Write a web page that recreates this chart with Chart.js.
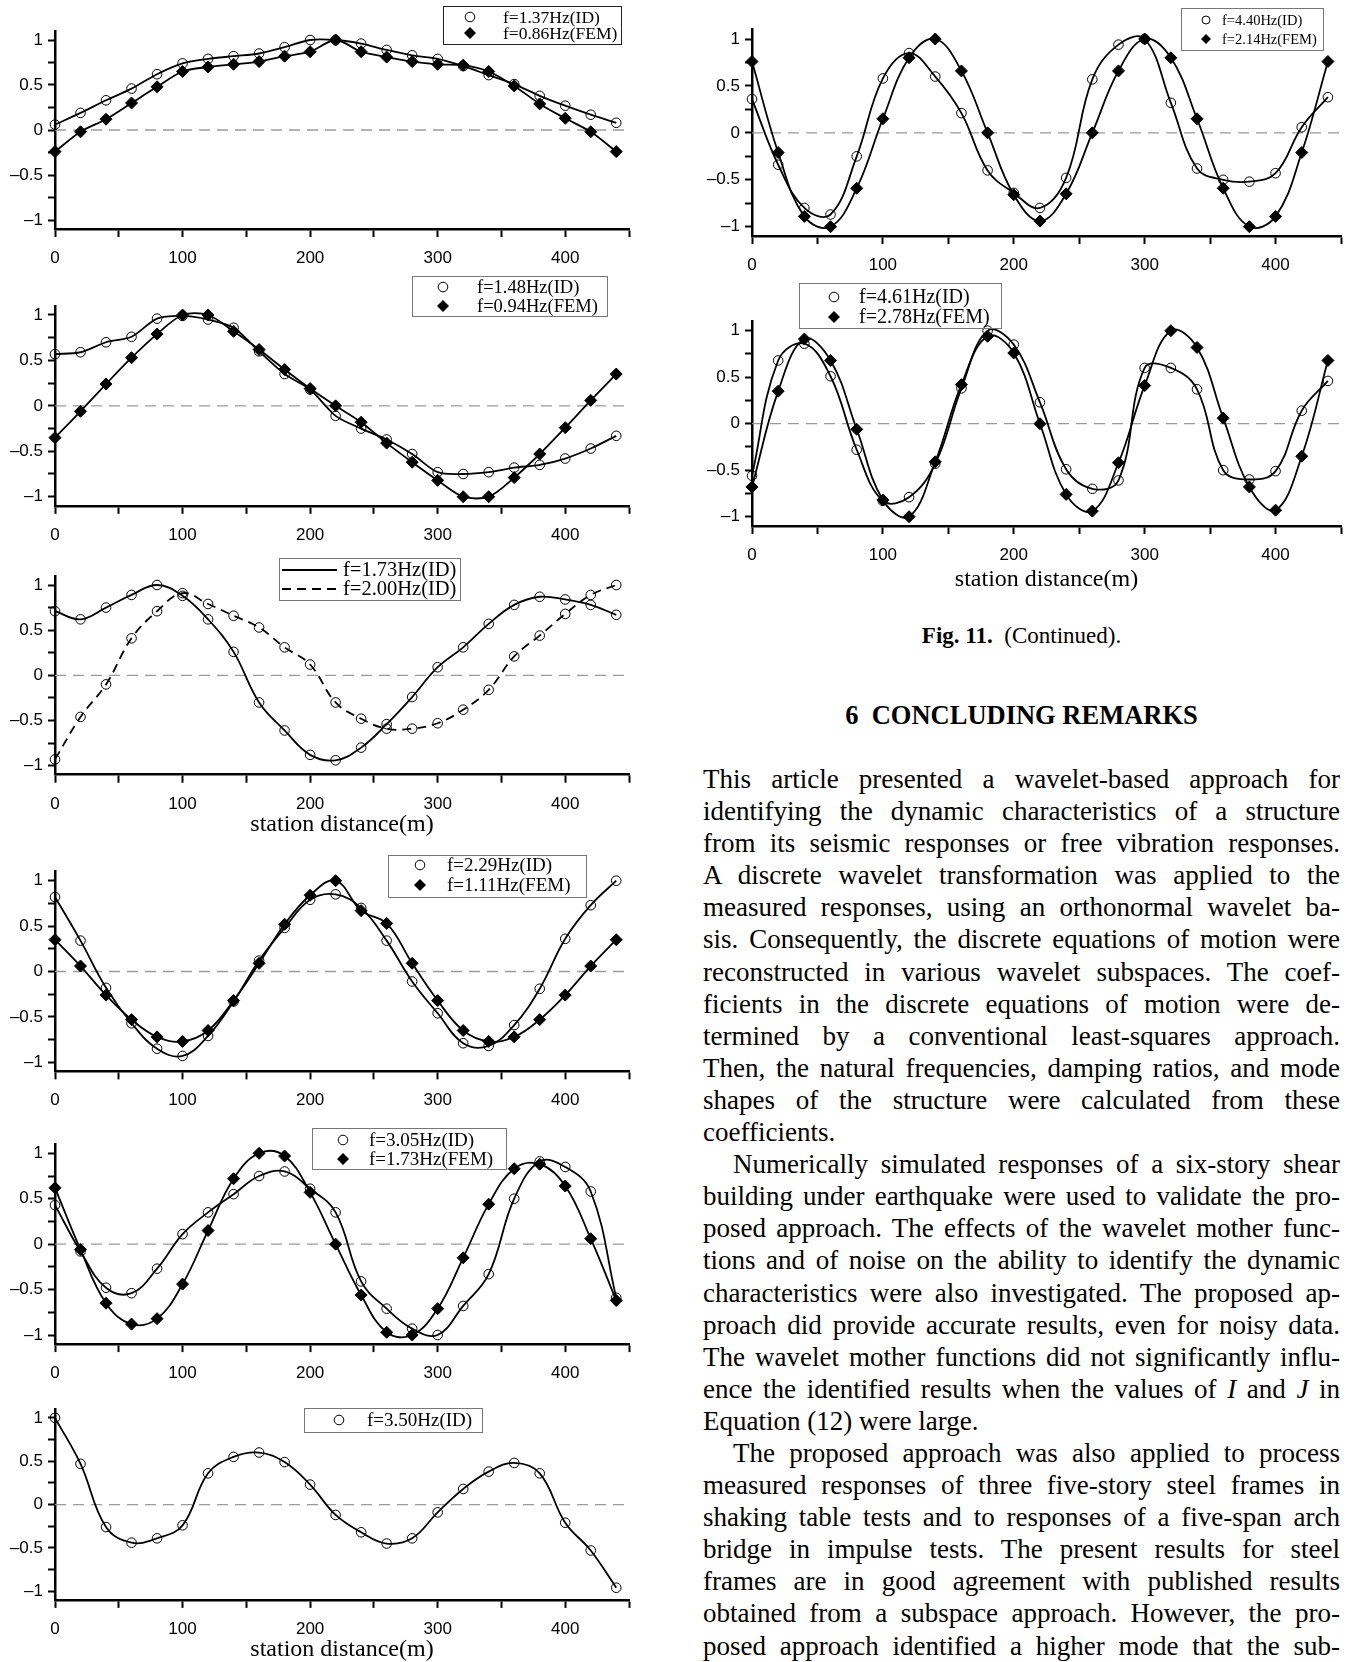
<!DOCTYPE html>
<html>
<head>
<meta charset="utf-8">
<title>Mode shapes</title>
<script src="https://cdn.jsdelivr.net/npm/chart.js@4.4.1/dist/chart.umd.min.js"></script>
<style>
  html, body { margin: 0; padding: 0; background: #fff; }
  body { width: 1352px; height: 1662px; position: relative; overflow: hidden; }
  canvas { position: absolute; }
  .txt { position: absolute; font-family: "Liberation Serif", "Times New Roman", serif; color: #000; }
  #caption { left: 703px; width: 637px; top: 622px; text-align: center; font-size: 23px; line-height: 28px; }
  #heading { left: 703px; width: 637px; top: 700px; text-align: center; font-size: 26.5px; font-weight: bold; line-height: 30px; }
  #body { left: 703px; width: 637px; top: 763px; font-size: 27px; line-height: 32.1px; }
  #body div { text-align: justify; text-align-last: justify; }
  #body div.end { text-align-last: left; }
  #body div.ind { text-indent: 30px; }
</style>
</head>
<body>

<div class="txt" id="caption"><b>Fig. 11.</b>&nbsp; (Continued).</div>
<div class="txt" id="heading">6&nbsp; CONCLUDING REMARKS</div>
<div class="txt" id="body">
  <div>This article presented a wavelet-based approach for</div>
  <div>identifying the dynamic characteristics of a structure</div>
  <div>from its seismic responses or free vibration responses.</div>
  <div>A discrete wavelet transformation was applied to the</div>
  <div>measured responses, using an orthonormal wavelet ba-</div>
  <div>sis. Consequently, the discrete equations of motion were</div>
  <div>reconstructed in various wavelet subspaces. The coef-</div>
  <div>ficients in the discrete equations of motion were de-</div>
  <div>termined by a conventional least-squares approach.</div>
  <div>Then, the natural frequencies, damping ratios, and mode</div>
  <div>shapes of the structure were calculated from these</div>
  <div class="end">coefficients.</div>
  <div class="ind">Numerically simulated responses of a six-story shear</div>
  <div>building under earthquake were used to validate the pro-</div>
  <div>posed approach. The effects of the wavelet mother func-</div>
  <div>tions and of noise on the ability to identify the dynamic</div>
  <div>characteristics were also investigated. The proposed ap-</div>
  <div>proach did provide accurate results, even for noisy data.</div>
  <div>The wavelet mother functions did not significantly influ-</div>
  <div>ence the identified results when the values of <i>I</i> and <i>J</i> in</div>
  <div class="end">Equation (12) were large.</div>
  <div class="ind">The proposed approach was also applied to process</div>
  <div>measured responses of three five-story steel frames in</div>
  <div>shaking table tests and to responses of a five-span arch</div>
  <div>bridge in impulse tests. The present results for steel</div>
  <div>frames are in good agreement with published results</div>
  <div>obtained from a subspace approach. However, the pro-</div>
  <div>posed approach identified a higher mode that the sub-</div>
</div>

<script>
// station positions (m)
const station = [0, 20, 40, 60, 80, 100, 120, 140, 160, 180, 200, 220,
                 240, 260, 280, 300, 320, 340, 360, 380, 400, 420, 440];

// normalised mode shapes
const id137 = [0.06, 0.19, 0.33, 0.46, 0.62, 0.74, 0.79, 0.82, 0.85, 0.92, 1.0, 1.0,
               0.96, 0.89, 0.83, 0.79, 0.71, 0.61, 0.51, 0.38, 0.27, 0.17, 0.08];
const fem086 = [-0.24, -0.02, 0.12, 0.30, 0.48, 0.65, 0.70, 0.73, 0.76, 0.82, 0.87, 1.0,
                0.87, 0.81, 0.76, 0.73, 0.72, 0.65, 0.49, 0.29, 0.13, -0.02, -0.24];

const id148 = [0.57, 0.59, 0.70, 0.76, 0.96, 0.99, 0.95, 0.86, 0.60, 0.35, 0.18, -0.11,
               -0.25, -0.37, -0.53, -0.73, -0.75, -0.73, -0.68, -0.65, -0.58, -0.47, -0.33];
const fem094 = [-0.35, -0.06, 0.24, 0.53, 0.79, 1.0, 1.0, 0.82, 0.62, 0.40, 0.19, 0.0,
                -0.18, -0.41, -0.62, -0.82, -1.0, -1.0, -0.79, -0.53, -0.24, 0.06, 0.35];

const id173 = [0.71, 0.62, 0.75, 0.89, 1.0, 0.88, 0.62, 0.26, -0.30, -0.61, -0.88, -0.94,
               -0.80, -0.54, -0.24, 0.09, 0.31, 0.57, 0.78, 0.87, 0.84, 0.78, 0.67];
const id200 = [-0.93, -0.46, -0.10, 0.41, 0.71, 0.91, 0.79, 0.66, 0.53, 0.31, 0.12, -0.30,
               -0.48, -0.59, -0.59, -0.53, -0.38, -0.16, 0.21, 0.44, 0.68, 0.89, 1.0];

const id229 = [0.82, 0.34, -0.18, -0.57, -0.85, -0.93, -0.71, -0.33, 0.12, 0.48, 0.79, 0.85,
               0.70, 0.34, -0.11, -0.46, -0.79, -0.82, -0.59, -0.19, 0.36, 0.73, 1.0];
const fem111 = [0.35, 0.06, -0.26, -0.53, -0.72, -0.77, -0.65, -0.32, 0.09, 0.52, 0.84, 1.0,
                0.67, 0.53, 0.09, -0.32, -0.65, -0.77, -0.72, -0.53, -0.26, 0.06, 0.35];

const id305 = [0.43, -0.08, -0.48, -0.54, -0.27, 0.11, 0.35, 0.55, 0.75, 0.80, 0.61, 0.35,
               -0.41, -0.71, -0.93, -1.0, -0.68, -0.33, 0.50, 0.91, 0.85, 0.58, -0.59];
const fem173 = [0.62, -0.06, -0.65, -0.88, -0.82, -0.44, 0.15, 0.72, 1.0, 0.97, 0.57, 0.0,
                -0.56, -0.97, -1.0, -0.71, -0.15, 0.44, 0.83, 0.88, 0.64, 0.06, -0.62];

const id350 = [1.0, 0.47, -0.26, -0.44, -0.39, -0.24, 0.36, 0.55, 0.60, 0.49, 0.23, -0.12,
               -0.32, -0.45, -0.39, -0.09, 0.18, 0.38, 0.48, 0.36, -0.21, -0.53, -0.96];

const id440 = [0.36, -0.34, -0.80, -0.87, -0.25, 0.58, 0.85, 0.60, 0.21, -0.40, -0.64, -0.80,
               -0.48, 0.57, 0.94, 1.0, 0.32, -0.38, -0.50, -0.52, -0.43, 0.06, 0.38];
const fem214 = [0.76, -0.21, -0.89, -1.0, -0.59, 0.15, 0.80, 1.0, 0.66, 0.0, -0.66, -0.94,
                -0.65, 0.0, 0.66, 1.0, 0.80, 0.15, -0.59, -1.0, -0.89, -0.21, 0.76];

const id461 = [-0.56, 0.68, 0.86, 0.51, -0.28, -0.83, -0.79, -0.43, 0.38, 1.0, 0.85, 0.23,
               -0.49, -0.70, -0.61, 0.60, 0.60, 0.37, -0.50, -0.60, -0.51, 0.14, 0.46];
const fem278 = [-0.68, 0.35, 0.91, 0.68, -0.06, -0.82, -1.0, -0.41, 0.42, 0.94, 0.76, 0.0,
                -0.76, -0.94, -0.42, 0.41, 1.0, 0.82, 0.06, -0.68, -0.93, -0.35, 0.68];

// axis ranges and the dashed zero reference
const xRange = [0, 450];
const yRange = [-1.1, 1.1];
const zeroLine = [0, 0];

const serif = '"Liberation Serif", "Times New Roman", serif';

function pickTickFont() {
  const c = document.createElement('canvas').getContext('2d');
  c.font = '20px monospace';
  const a = c.measureText('300').width;
  c.font = '20px "Liberation Sans Narrow", monospace';
  const b = c.measureText('300').width;
  if (Math.abs(a - b) > 0.5) return { family: '"Liberation Sans Narrow", "Arial Narrow", sans-serif', size: 20 };
  return { family: '"Liberation Sans", Arial, sans-serif', size: 17 };
}
const tickFont = pickTickFont();

// boxed legend drawn at a fixed spot of the canvas
const boxLegend = {
  id: 'boxLegend',
  afterDraw(chart, args, o) {
    if (!o || !o.rows) return;
    const ctx = chart.ctx;
    const ox = o.ox, oy = o.oy;
    ctx.save();
    ctx.setLineDash([]);
    ctx.strokeStyle = o.border || '#777';
    ctx.lineWidth = 1;
    ctx.strokeRect(Math.round(o.x - ox) + 0.5, Math.round(o.y - oy) + 0.5, o.w, o.h);
    ctx.font = o.size + 'px ' + serif;
    ctx.textBaseline = 'middle';
    ctx.textAlign = 'left';
    o.rows.forEach((ry, i) => {
      const ds = chart.data.datasets[i];
      const y = ry - oy;
      ctx.strokeStyle = '#000';
      ctx.fillStyle = '#000';
      if (o.lineX) {
        ctx.lineWidth = 2;
        ctx.setLineDash(ds.borderDash || []);
        ctx.beginPath();
        ctx.moveTo(o.lineX[0] - ox, y);
        ctx.lineTo(o.lineX[1] - ox, y);
        ctx.stroke();
        ctx.setLineDash([]);
      } else {
        const x = o.markX - ox;
        ctx.lineWidth = 1;
        ctx.beginPath();
        if (ds.pointStyle === 'rectRot') {
          const r = o.dia || 6;
          ctx.moveTo(x - r, y); ctx.lineTo(x, y - r); ctx.lineTo(x + r, y); ctx.lineTo(x, y + r);
          ctx.closePath();
          ctx.fill();
        } else {
          ctx.arc(x, y, o.circ || 4.8, 0, Math.PI * 2);
          ctx.stroke();
        }
      }
      ctx.fillText(ds.label, o.textX - ox, y + 1);
    });
    ctx.restore();
  }
};

const panels = [
  { left: 0, top: 0, w: 640, h: 272, axisX: 55, xEnd: 630, y1: 40, ym1: 220, tension: 0.3,
    series: [{ label: 'f=1.37Hz(ID)', values: id137, mark: 'circle' },
             { label: 'f=0.86Hz(FEM)', values: fem086, mark: 'diamond' }],
    legend: { x: 443, y: 6, w: 178, h: 38, rows: [17, 33], markX: 470, textX: 503, size: 17.5, border: '#222' } },
  { left: 0, top: 272, w: 640, h: 273, axisX: 55, xEnd: 630, y1: 315, ym1: 496.7, tension: 0.3,
    series: [{ label: 'f=1.48Hz(ID)', values: id148, mark: 'circle' },
             { label: 'f=0.94Hz(FEM)', values: fem094, mark: 'diamond' }],
    legend: { x: 412, y: 276, w: 195, h: 40, rows: [287, 306], markX: 443, textX: 477, size: 18.5 } },
  { left: 0, top: 548, w: 640, h: 289, axisX: 55, xEnd: 630, y1: 585, ym1: 765.7, tension: 0.4, title: true,
    series: [{ label: 'f=1.73Hz(ID)', values: id173, mark: 'circle' },
             { label: 'f=2.00Hz(ID)', values: id200, mark: 'circle', dash: true }],
    legend: { x: 279, y: 558, w: 181, h: 42, rows: [570, 589], lineX: [282, 337], textX: 343, size: 20.5 } },
  { left: 0, top: 848, w: 640, h: 267, axisX: 55, xEnd: 630, y1: 880.7, ym1: 1062.3, tension: 0.4,
    series: [{ label: 'f=2.29Hz(ID)', values: id229, mark: 'circle' },
             { label: 'f=1.11Hz(FEM)', values: fem111, mark: 'diamond' }],
    legend: { x: 388, y: 855, w: 198, h: 42, rows: [865, 885], markX: 420, textX: 447, size: 19 } },
  { left: 0, top: 1118, w: 640, h: 274, axisX: 55, xEnd: 630, y1: 1153.3, ym1: 1335, tension: 0.4,
    series: [{ label: 'f=3.05Hz(ID)', values: id305, mark: 'circle' },
             { label: 'f=1.73Hz(FEM)', values: fem173, mark: 'diamond' }],
    legend: { x: 312, y: 1128, w: 194, h: 41, rows: [1140, 1159], markX: 343, textX: 369, size: 19 } },
  { left: 0, top: 1394, w: 640, h: 268, axisX: 55, xEnd: 630, y1: 1407.3, ym1: 1590.7, tension: 0.4, title: true,
    series: [{ label: 'f=3.50Hz(ID)', values: id350, mark: 'circle' }],
    legend: { x: 304, y: 1408, w: 178, h: 24, rows: [1420], markX: 339, textX: 367, size: 19 } },
  { left: 680, top: 0, w: 672, h: 278, axisX: 752, xEnd: 1344, y1: 39, ym1: 226.7, tension: 0.4,
    series: [{ label: 'f=4.40Hz(ID)', values: id440, mark: 'circle' },
             { label: 'f=2.14Hz(FEM)', values: fem214, mark: 'diamond' }],
    legend: { x: 1181, y: 8, w: 142, h: 42, rows: [20, 39], markX: 1206, textX: 1222, size: 14.5, circ: 4, dia: 5 } },
  { left: 680, top: 280, w: 672, h: 312, axisX: 752, xEnd: 1344, y1: 330.7, ym1: 516.7, tension: 0.4, title: true,
    series: [{ label: 'f=4.61Hz(ID)', values: id461, mark: 'circle' },
             { label: 'f=2.78Hz(FEM)', values: fem278, mark: 'diamond' }],
    legend: { x: 799, y: 283, w: 202, h: 45, rows: [297, 317], markX: 834, textX: 859, size: 20 } }
];

function isHalf(v) { return Math.abs(v * 2 - Math.round(v * 2)) < 1e-9; }
// negative y labels use an en dash, a little wider than a hyphen
function yLabel(v) { return v < 0 ? '\u2013' + String(-v) : String(v); }

function makeChart(p) {
  const canvas = document.createElement('canvas');
  canvas.width = p.w;
  canvas.height = p.h;
  canvas.style.left = p.left + 'px';
  canvas.style.top = p.top + 'px';
  document.body.appendChild(canvas);

  const unit = (p.ym1 - p.y1) / 2;
  const yTop = p.y1 - (yRange[1] - 1) * unit;
  const yBot = p.ym1 + (-1 - yRange[0]) * unit;

  const datasets = p.series.map(s => ({
    label: s.label,
    data: station.map((x, i) => ({ x: x, y: s.values[i] })),
    borderColor: '#000',
    borderWidth: 1.8,
    borderDash: s.dash ? [9, 6] : [],
    tension: p.tension,
    pointStyle: s.mark === 'diamond' ? 'rectRot' : 'circle',
    pointRadius: s.mark === 'diamond' ? 6 : 4.8,
    pointBackgroundColor: s.mark === 'diamond' ? '#000' : 'rgba(0,0,0,0)',
    pointBorderColor: '#000',
    pointBorderWidth: 1,
    clip: false,
    order: 0
  }));
  datasets.push({
    label: 'zero',
    data: xRange.map((x, i) => ({ x: x, y: zeroLine[i] })),
    borderColor: '#9a9a9a',
    borderWidth: 1.3,
    borderDash: [11, 7],
    pointRadius: 0,
    tension: 0,
    order: 5
  });

  const axisBorder = { display: true, color: '#000', width: 2.5 };

  new Chart(canvas, {
    type: 'line',
    data: { datasets: datasets },
    plugins: [boxLegend],
    options: {
      responsive: false,
      maintainAspectRatio: false,
      devicePixelRatio: 1,
      animation: false,
      events: [],
      layout: { padding: { left: 0, top: yTop - p.top, right: p.left + p.w - p.xEnd, bottom: 0 } },
      plugins: {
        legend: { display: false },
        tooltip: { enabled: false },
        boxLegend: Object.assign({ ox: p.left, oy: p.top }, p.legend)
      },
      scales: {
        x: {
          type: 'linear',
          min: xRange[0],
          max: xRange[1],
          afterFit: s => { s.height = p.top + p.h - yBot; },
          border: axisBorder,
          grid: { drawOnChartArea: false, drawTicks: true, tickLength: 8, tickWidth: 2, tickColor: '#000', color: '#000' },
          ticks: {
            stepSize: 50, autoSkip: false, maxRotation: 0, padding: 11, color: '#000',
            font: { family: tickFont.family, size: tickFont.size },
            callback: v => (v % 100 === 0 ? String(v) : '')
          },
          title: {
            display: !!p.title,
            text: 'station distance(m)',
            color: '#000',
            font: { family: serif, size: 24, lineHeight: 1 },
            padding: { top: 0, bottom: 0 }
          }
        },
        y: {
          type: 'linear',
          min: yRange[0],
          max: yRange[1],
          afterFit: s => { s.width = p.axisX - p.left; },
          border: axisBorder,
          grid: { drawOnChartArea: false, drawTicks: true, tickLength: 7, tickWidth: 2, tickColor: '#000', color: '#000' },
          ticks: {
            stepSize: 0.25, includeBounds: false, autoSkip: false, padding: 5, color: '#000',
            font: { family: tickFont.family, size: tickFont.size },
            callback: v => (isHalf(v) ? yLabel(v) : '')
          }
        }
      }
    }
  });
}

panels.forEach(makeChart);

// squeeze any body line that would wrap onto a second line
document.querySelectorAll('#body div').forEach(d => {
  let ls = 0;
  while (d.offsetHeight > 40 && ls > -3) {
    ls -= 0.1;
    d.style.letterSpacing = ls.toFixed(1) + 'px';
  }
});
</script>
</body>
</html>
